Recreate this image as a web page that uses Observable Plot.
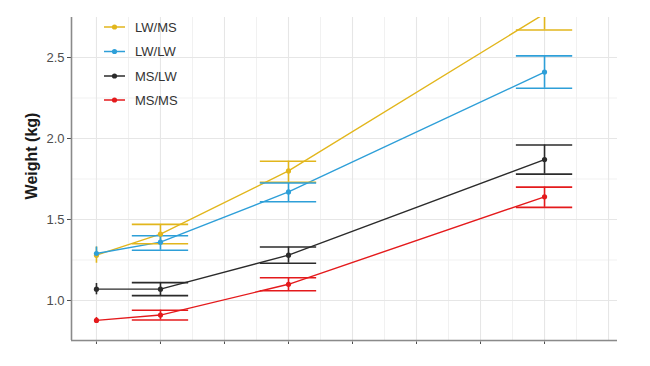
<!DOCTYPE html>
<html>
<head>
<meta charset="utf-8">
<script src="https://cdn.jsdelivr.net/npm/d3@7"></script>
<script src="https://cdn.jsdelivr.net/npm/@observablehq/plot@0.6"></script>
<style>
  html, body { margin: 0; padding: 0; background: #fff; }
  #wrap { position: relative; width: 650px; height: 366px; font-family: "Liberation Sans", Arial, sans-serif; }
  #chart svg { display: block; }
  .ov { position: absolute; left: 0; top: 0; overflow: visible; }
</style>
</head>
<body>
<div id="wrap"><div id="chart"></div></div>
<script>
// ---- data ----
const days = [0, 1, 3, 7];
const groups = ["LW/MS", "LW/LW", "MS/LW", "MS/MS"];
const colors = ["#E2B61C", "#2E9FD8", "#2B2B2B", "#E41A1C"];

const meanLWMS = [1.28, 1.41, 1.80, 2.77];
const loLWMS   = [1.23, 1.35, 1.73, 2.67];
const hiLWMS   = [1.33, 1.47, 1.86, 2.87];

const meanLWLW = [1.29, 1.36, 1.67, 2.41];
const loLWLW   = [1.26, 1.31, 1.61, 2.31];
const hiLWLW   = [1.33, 1.40, 1.725, 2.51];

const meanMSLW = [1.07, 1.07, 1.28, 1.87];
const loMSLW   = [1.035, 1.03, 1.23, 1.78];
const hiMSLW   = [1.105, 1.11, 1.33, 1.96];

const meanMSMS = [0.877, 0.91, 1.10, 1.64];
const loMSMS   = [0.86, 0.88, 1.06, 1.575];
const hiMSMS   = [0.895, 0.94, 1.14, 1.70];

const yTicks = [1.0, 1.5, 2.0, 2.5];
const yMinor = [0.75, 1.25, 1.75, 2.25];
const xTicks = [0, 1, 2, 3, 4, 5, 6, 7];
const xGrid = [0, 1, 2, 3, 4, 5, 6, 7, 8];
const xMinor = [0.5, 1.5, 2.5, 3.5, 4.5, 5.5, 6.5, 7.5];

// ---- build table ----
const series = [
  [meanLWMS, loLWMS, hiLWMS],
  [meanLWLW, loLWLW, hiLWLW],
  [meanMSLW, loMSLW, hiMSLW],
  [meanMSMS, loMSMS, hiMSMS]
];
const rows = [];
series.forEach((s, gi) => {
  days.forEach((d, i) => {
    rows.push({group: groups[gi], day: d, mean: s[0][i], lo: s[1][i], hi: s[2][i], idx: i});
  });
});
const capRows = rows.filter(r => r.idx > 0);
const capHalf = 0.44;

const xDomain = [-0.39, 8.14];
const yDomain = [0.753, 2.747];

const color = {domain: groups, range: colors};

const plot = Plot.plot({
  width: 650,
  height: 366,
  marginLeft: 71,
  marginRight: 33,
  marginTop: 17,
  marginBottom: 26,
  style: {fontFamily: "'Liberation Sans', Arial, sans-serif", fontSize: "13px", color: "#4D4D4D", background: "#fff"},
  x: {domain: xDomain, ticks: xTicks, tickFormat: () => "", tickSize: 4, label: null},
  y: {domain: yDomain, ticks: yTicks, tickFormat: d3.format(".1f"), tickSize: 4, tickPadding: 3, label: null},
  color: color,
  marks: [
    Plot.ruleX(xMinor, {stroke: "#F1F1F1", strokeWidth: 1}),
    Plot.ruleY(yMinor, {stroke: "#F1F1F1", strokeWidth: 1}),
    Plot.ruleX(xGrid, {stroke: "#E6E6E6", strokeWidth: 1.1}),
    Plot.ruleY(yTicks, {stroke: "#E6E6E6", strokeWidth: 1.1}),
    Plot.ruleX([xDomain[0]], {stroke: "#8A8A8A", strokeWidth: 1.6}),
    Plot.ruleY([yDomain[0]], {stroke: "#8A8A8A", strokeWidth: 1.6}),
    Plot.line(rows, {x: "day", y: "mean", z: "group", stroke: d => d.group, strokeWidth: 1.4, clip: true}),
    Plot.ruleX(rows, {x: "day", y1: "lo", y2: "hi", stroke: d => d.group, strokeWidth: 1.6, clip: true}),
    Plot.ruleY(capRows, {y: "lo", x1: d => d.day - capHalf, x2: d => d.day + capHalf, stroke: d => d.group, strokeWidth: 1.6, clip: true}),
    Plot.ruleY(capRows, {y: "hi", x1: d => d.day - capHalf, x2: d => d.day + capHalf, stroke: d => d.group, strokeWidth: 1.6, clip: true}),
    Plot.dot(rows, {x: "day", y: "mean", fill: d => d.group, r: 2.6, clip: true})
  ]
});
document.getElementById("chart").appendChild(plot);

// ---- y axis title ----
const wrap = document.getElementById("wrap");
const ns = "http://www.w3.org/2000/svg";
const ttl = document.createElementNS(ns, "svg");
ttl.setAttribute("width", 50);
ttl.setAttribute("height", 366);
ttl.setAttribute("class", "ov");
const t = document.createElementNS(ns, "text");
t.setAttribute("transform", "translate(37,156) rotate(-90)");
t.setAttribute("text-anchor", "middle");
t.setAttribute("font-family", "'Liberation Sans', Arial, sans-serif");
t.setAttribute("font-size", "16");
t.setAttribute("font-weight", "bold");
t.setAttribute("fill", "#1A1A1A");
t.textContent = "Weight (kg)";
ttl.appendChild(t);
wrap.appendChild(ttl);

// ---- legend inside the panel ----
const leg = document.createElementNS(ns, "svg");
leg.setAttribute("width", 200);
leg.setAttribute("height", 120);
leg.setAttribute("class", "ov");
const legY = [27, 51.5, 76, 100];
groups.forEach((g, i) => {
  const y = legY[i];
  const ln = document.createElementNS(ns, "line");
  ln.setAttribute("x1", 104); ln.setAttribute("x2", 125);
  ln.setAttribute("y1", y); ln.setAttribute("y2", y);
  ln.setAttribute("stroke", colors[i]); ln.setAttribute("stroke-width", 1.5);
  leg.appendChild(ln);
  const c = document.createElementNS(ns, "circle");
  c.setAttribute("cx", 114.5); c.setAttribute("cy", y); c.setAttribute("r", 2.6);
  c.setAttribute("fill", colors[i]);
  leg.appendChild(c);
  const tx = document.createElementNS(ns, "text");
  tx.setAttribute("x", 135); tx.setAttribute("y", y + 4.6);
  tx.setAttribute("font-family", "'Liberation Sans', Arial, sans-serif");
  tx.setAttribute("font-size", "13");
  tx.setAttribute("fill", "#333");
  tx.textContent = g;
  leg.appendChild(tx);
});
wrap.appendChild(leg);
</script>
</body>
</html>
